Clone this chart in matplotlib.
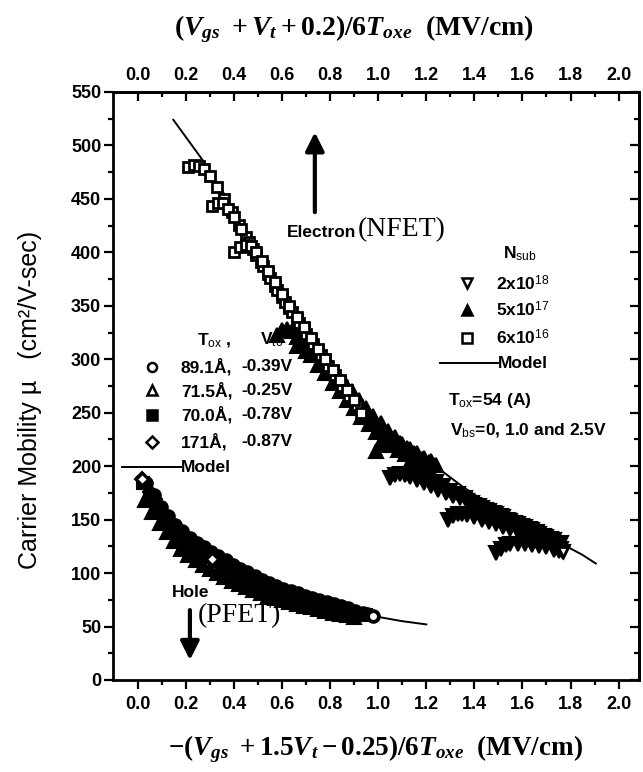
import matplotlib
matplotlib.use('Agg')
import matplotlib.pyplot as plt
from matplotlib.ticker import MultipleLocator, FixedLocator, FormatStrFormatter

plt.rcParams['font.family'] = ['Liberation Sans', 'DejaVu Sans']
plt.rcParams['mathtext.fontset'] = 'custom'
plt.rcParams['mathtext.rm'] = 'Liberation Serif:bold'
plt.rcParams['mathtext.it'] = 'Liberation Serif:italic:bold'
plt.rcParams['mathtext.bf'] = 'Liberation Serif:bold'
plt.rcParams['mathtext.sf'] = 'Liberation Sans'

# ---------------- data ----------------
# Electron (NFET) model curve
e_model_x = [0.147, 0.27, 0.35, 0.45, 0.55, 0.65, 0.75, 0.85, 0.95, 1.05, 1.15, 1.25, 1.35, 1.45, 1.55, 1.65, 1.75, 1.85, 1.905]
e_model_y = [524, 486, 458, 418, 380, 345, 312, 280, 251, 226, 209, 198, 181, 166, 152, 140, 129, 117, 109]

# Nsub = 6e16 (open squares), three Vbs curves
sq_x = [0.21, 0.235, 0.255, 0.275, 0.30, 0.33, 0.36, 0.39, 0.42, 0.45, 0.48, 0.51, 0.54, 0.57, 0.60, 0.63, 0.66, 0.69, 0.72, 0.75, 0.78, 0.81, 0.84, 0.87, 0.90,
        0.31, 0.335, 0.355, 0.375, 0.40, 0.43, 0.46, 0.49, 0.52, 0.55, 0.58, 0.61, 0.64, 0.67, 0.70, 0.73, 0.76, 0.79, 0.82, 0.85, 0.88, 0.91,
        0.40, 0.425, 0.45, 0.47, 0.49, 0.515, 0.54, 0.57, 0.60, 0.63, 0.66, 0.69, 0.72, 0.75, 0.78, 0.81, 0.84, 0.87, 0.90, 0.93]
sq_y = [480, 482, 481, 478, 471, 461, 450, 438, 426, 414, 403, 391, 380, 369, 358, 348, 338, 328, 318, 308, 298, 289, 279, 270, 261,
        443, 446, 446, 441, 433, 422, 410, 398, 387, 376, 365, 354, 344, 334, 324, 314, 304, 294, 285, 275, 266, 257,
        400, 405, 407, 406, 400, 392, 383, 372, 361, 350, 340, 330, 320, 310, 300, 290, 281, 271, 262, 250]

# Nsub = 5e17 (filled up triangles)
tu_x = [0.58, 0.60, 0.62, 0.64, 0.66, 0.69, 0.72, 0.75, 0.78, 0.81, 0.84, 0.87, 0.90, 0.93, 0.96, 0.99, 1.02, 1.05, 1.08, 1.11, 1.14, 1.17, 1.20, 1.23,
        0.66, 0.68, 0.70, 0.73, 0.76, 0.79, 0.82, 0.85, 0.88, 0.91, 0.94, 0.97, 1.00, 1.03, 1.06, 1.09, 1.12, 1.15, 1.18, 1.21,
        0.70, 0.72, 0.74, 0.77, 0.80, 0.83, 0.86, 0.89, 0.92, 0.95, 0.98, 1.01, 1.04, 1.07, 1.10, 1.13, 1.16, 1.19, 1.22,
        0.99, 1.01, 1.03, 1.05, 1.07, 1.09, 1.12, 1.15, 1.18, 1.21, 1.24]
tu_y = [323, 327, 328, 326, 321, 313, 304, 295, 287, 278, 270, 262, 254, 246, 239, 232, 226, 220, 215, 211, 208, 205, 203, 201,
        312, 314, 313, 306, 298, 289, 281, 273, 264, 256, 249, 242, 235, 229, 223, 218, 213, 209, 206, 203,
        308, 310, 308, 300, 293, 286, 278, 270, 262, 254, 247, 240, 233, 227, 221, 216, 212, 208, 205,
        214, 220, 224, 226, 225, 222, 217, 212, 207, 204, 201]

# Nsub = 2e18 (open down triangles)
td_x = [1.05, 1.07, 1.09, 1.11, 1.13, 1.16, 1.19, 1.22, 1.25, 1.28, 1.31, 1.34, 1.37, 1.40, 1.43, 1.46, 1.49, 1.52, 1.55, 1.58, 1.61, 1.64, 1.67, 1.70, 1.73, 1.76,
        1.15, 1.18, 1.21, 1.24, 1.27, 1.30, 1.33, 1.36, 1.39, 1.42, 1.45, 1.48, 1.51, 1.54, 1.57, 1.60, 1.63, 1.66, 1.69, 1.72,
        1.29, 1.31, 1.33, 1.35, 1.37, 1.40, 1.43, 1.46, 1.49, 1.52, 1.55, 1.58, 1.61, 1.64, 1.67, 1.70, 1.73, 1.76,
        1.49, 1.51, 1.53, 1.55, 1.58, 1.61, 1.64, 1.67, 1.70, 1.73, 1.75, 1.77]
td_y = [189, 192, 193, 192, 190, 187, 184, 181, 178, 175, 172, 170, 167, 164, 161, 158, 155, 152, 149, 146, 143, 140, 137, 134, 131, 128,
        195, 192, 188, 185, 181, 177, 174, 170, 166, 163, 159, 156, 153, 150, 147, 144, 141, 138, 135, 132,
        150, 153, 155, 155, 154, 152, 150, 148, 146, 143, 141, 138, 136, 133, 131, 128, 126, 123,
        119, 123, 126, 127, 127, 127, 126, 125, 124, 122, 121, 120]

# Hole (PFET) model curve
h_model_x = [0.0, 0.05, 0.10, 0.15, 0.20, 0.30, 0.40, 0.50, 0.60, 0.70, 0.80, 0.90, 1.00, 1.10, 1.20]
h_model_y = [190, 170, 152, 138, 127, 111, 99, 89, 81, 74, 68, 63, 59, 55, 52]

# Tox 89.1 A (circles)
hc_x = [0.035, 0.065, 0.095, 0.125, 0.155, 0.185, 0.215, 0.245, 0.275, 0.305, 0.335, 0.365, 0.395, 0.425, 0.455, 0.485, 0.515, 0.545, 0.575, 0.605, 0.635, 0.665, 0.695, 0.725, 0.755, 0.785, 0.815, 0.845, 0.875, 0.905, 0.935, 0.955, 0.977]
hc_y = [184, 173, 162, 153, 145, 139, 133, 128, 124, 120, 116, 112, 108, 104, 101, 97, 94, 91, 88, 85, 83, 81, 79, 77, 75, 73, 71, 69, 67, 65, 63, 62, 60]
# Tox 71.5 A (up triangles)
ht_x = [0.03, 0.06, 0.09, 0.12, 0.15, 0.18, 0.21, 0.24, 0.27, 0.30, 0.33, 0.36, 0.39, 0.42, 0.45, 0.48, 0.51, 0.54, 0.57, 0.60, 0.63, 0.66, 0.69, 0.72, 0.75, 0.78, 0.81, 0.84, 0.87, 0.90]
ht_y = [168, 157, 147, 138, 130, 123, 117, 112, 108, 104, 100, 96, 93, 90, 87, 84, 81, 79, 77, 75, 73, 71, 69, 68, 66, 65, 63, 62, 61, 59]
# Tox 70.0 A (filled squares)
hs_x = [0.02, 0.05, 0.08, 0.11, 0.14, 0.17, 0.20, 0.23, 0.26, 0.29, 0.32, 0.35, 0.38, 0.41, 0.44, 0.47, 0.50, 0.53, 0.56, 0.59, 0.62, 0.65, 0.68, 0.71, 0.74, 0.77, 0.80, 0.83, 0.86, 0.89, 0.92, 0.95]
hs_y = [184, 172, 161, 151, 141, 134, 128, 123, 119, 115, 111, 107, 103, 99, 96, 92, 89, 86, 84, 81, 79, 77, 75, 73, 71, 70, 68, 66, 64, 63, 62, 61]
# Tox 171 A (diamonds)
hd_x = [0.015, 0.03, 0.05, 0.07, 0.09, 0.12, 0.15, 0.18, 0.21, 0.24, 0.27, 0.31, 0.34, 0.37, 0.40, 0.43, 0.46, 0.50]
hd_y = [188, 183, 176, 169, 162, 152, 144, 137, 131, 126, 121, 113, 110, 106, 102, 99, 96, 92]

x_ticks = [0.0, 0.2, 0.4, 0.6, 0.8, 1.0, 1.2, 1.4, 1.6, 1.8, 2.0]
y_ticks = [0, 50, 100, 150, 200, 250, 300, 350, 400, 450, 500, 550]

tox_labels = ['89.1Å,', '71.5Å,', '70.0Å,', '171Å,']
vto_labels = ['-0.39V', '-0.25V', '-0.78V', '-0.87V']
nsub_labels = [r'2x10$^{\mathsf{18}}$', r'5x10$^{\mathsf{17}}$', r'6x10$^{\mathsf{16}}$']

# ---------------- figure ----------------
W, H = 643, 772
fig = plt.figure(figsize=(W / 100, H / 100), dpi=100)
L, R, T, B = 113, 639, 92, 680
ax = fig.add_axes([L / W, 1 - B / H, (R - L) / W, (B - T) / H])
ax.set_xlim(-0.104, 2.085)
ax.set_ylim(0, 550)

k = 'black'
open_kw = dict(linestyle='none', mfc='white', mec=k, mew=2.0, ms=7)
fill_kw = dict(linestyle='none', mfc=k, mec=k, mew=1.5, ms=8)

# model lines
ax.plot(e_model_x, e_model_y, color=k, lw=1.4, zorder=2)
ax.plot(h_model_x, h_model_y, color=k, lw=1.4, zorder=2)

# electron data (dense measured points merge into solid bands)
ax.plot(tu_x, tu_y, marker='^', **dict(fill_kw, ms=9.5), zorder=3)
ax.plot(td_x, td_y, marker='v', **dict(fill_kw, ms=9.5), zorder=3)
ax.plot(td_x[-1:], td_y[-1:], marker='v', **open_kw, zorder=4)
ax.plot(sq_x, sq_y, marker='s', **open_kw, zorder=4)

# hole data
ax.plot(hs_x, hs_y, marker='s', **fill_kw, zorder=3)
ax.plot(ht_x, ht_y, marker='^', **dict(fill_kw, ms=9.5), zorder=3)
ax.plot(hd_x, hd_y, marker='D', **dict(fill_kw, ms=7), zorder=3)
ax.plot(hc_x, hc_y, marker='o', **dict(fill_kw, ms=9), zorder=3)
ax.plot([hd_x[0], hd_x[11]], [hd_y[0], hd_y[11]], marker='D', **dict(open_kw, ms=6), zorder=4)
ax.plot(hc_x[-1:], hc_y[-1:], marker='o', **open_kw, zorder=4)

# ---------------- axes styling ----------------
for s in ax.spines.values():
    s.set_linewidth(2.0)

minor_x = [0.1, 0.3, 0.5, 0.7, 0.9, 1.1, 1.3, 1.5, 1.7, 1.9]
ax.xaxis.set_major_locator(FixedLocator(x_ticks))
ax.xaxis.set_minor_locator(FixedLocator(minor_x))
ax.xaxis.set_major_formatter(FormatStrFormatter('%.1f'))
ax.yaxis.set_major_locator(FixedLocator(y_ticks))
ax.yaxis.set_minor_locator(MultipleLocator(25))
ax.tick_params(which='major', direction='out', length=6.5, width=1.6, labelsize=13, pad=5)
ax.tick_params(which='minor', direction='out', length=3.5, width=1.6)
ax.tick_params(axis='y', which='major', pad=2)
for lab in ax.get_xticklabels() + ax.get_yticklabels():
    lab.set_fontweight('bold')

top = ax.secondary_xaxis('top')
top.xaxis.set_major_locator(FixedLocator(x_ticks))
top.xaxis.set_minor_locator(FixedLocator(minor_x))
top.xaxis.set_major_formatter(FormatStrFormatter('%.1f'))
top.tick_params(which='major', direction='in', length=6.5, width=1.6, labelsize=13, pad=6)
top.tick_params(which='minor', direction='in', length=3.5, width=1.6)
top.spines['top'].set_linewidth(2.0)
for lab in top.get_xticklabels():
    lab.set_fontweight('bold')

right = ax.secondary_yaxis('right')
right.yaxis.set_major_locator(FixedLocator(y_ticks))
right.yaxis.set_minor_locator(MultipleLocator(25))
right.tick_params(which='major', direction='in', length=6.5, width=1.6, labelright=False)
right.tick_params(which='minor', direction='in', length=3.5, width=1.6)
right.spines['right'].set_linewidth(2.0)

# axis labels
fig.text(354 / W, 1 - 29 / H,
         r'$(V_{gs}\ + V_t + 0.2)/6T_{oxe}$  (MV/cm)',
         family='Liberation Serif', weight='bold', fontsize=20, ha='center', va='center')
fig.text(375 / W, 1 - 749 / H,
         r'$-(V_{gs}\ + 1.5V_t - 0.25)/6T_{oxe}$  (MV/cm)',
         family='Liberation Serif', weight='bold', fontsize=19.5, ha='center', va='center')
fig.text(30 / W, 1 - 400 / H, 'Carrier Mobility µ   (cm²/V-sec)', rotation=90,
         fontsize=18, ha='center', va='center')

# ---------------- annotations ----------------
fs = 12.5
ax.annotate('', xy=(0.736, 515), xytext=(0.736, 435),
            arrowprops=dict(arrowstyle='-|>', lw=3, color=k, mutation_scale=28))
ax.text(0.62, 419, 'Electron', fontsize=fs, weight='bold', va='center', ha='left')
ax.text(0.915, 421, '(NFET)', family='Liberation Serif', fontsize=20, va='center', ha='left')

ax.annotate('', xy=(0.216, 16), xytext=(0.216, 68),
            arrowprops=dict(arrowstyle='-|>', lw=3, color=k, mutation_scale=28))
ax.text(0.14, 82, 'Hole', fontsize=fs, weight='bold', va='center', ha='left')
ax.text(0.25, 60, '(PFET)', family='Liberation Serif', fontsize=20, va='center', ha='left')

# left legend (holes)
ax.text(0.245, 318, r'T$_{\mathsf{ox}}$ ,', fontsize=fs, weight='bold', va='center')
ax.text(0.507, 318, r'V$_{\mathsf{to}}$', fontsize=fs, weight='bold', va='center')
row_y = [293, 271, 248, 223]
row_m = [('o', 'white'), ('^', 'white'), ('s', k), ('D', 'white')]
for yy, (m, fc), t1, t2 in zip(row_y, row_m, tox_labels, vto_labels):
    ax.plot([0.057], [yy], marker=m, linestyle='none', mfc=fc, mec=k, mew=1.8, ms=6.5)
    ax.text(0.178, yy, t1, fontsize=fs, weight='bold', va='center')
    ax.text(0.43, yy, t2, fontsize=fs, weight='bold', va='center')
ax.plot([-0.067, 0.18], [199, 199], color=k, lw=1.4)
ax.text(0.18, 199, 'Model', fontsize=fs, weight='bold', va='center')

# right legend (electrons)
ax.text(1.59, 399, r'N$_{\mathsf{sub}}$', fontsize=fs, weight='bold', va='center', ha='center')
for yy, (m, fc), t in zip([371, 346, 320], [('v', 'white'), ('^', k), ('s', 'white')], nsub_labels):
    ax.plot([1.37], [yy], marker=m, linestyle='none', mfc=fc, mec=k, mew=1.8, ms=6.5)
    ax.text(1.49, yy, t, fontsize=fs, weight='bold', va='center')
ax.plot([1.256, 1.497], [296.5, 296.5], color=k, lw=1.4)
ax.text(1.497, 296.5, 'Model', fontsize=fs, weight='bold', va='center')
ax.text(1.29, 261, r'T$_{\mathsf{ox}}$=54 (A)', fontsize=fs, weight='bold', va='center')
ax.text(1.30, 234, r'V$_{\mathsf{bs}}$=0, 1.0 and 2.5V', fontsize=fs, weight='bold', va='center')

fig.savefig('out.png', dpi=100)
